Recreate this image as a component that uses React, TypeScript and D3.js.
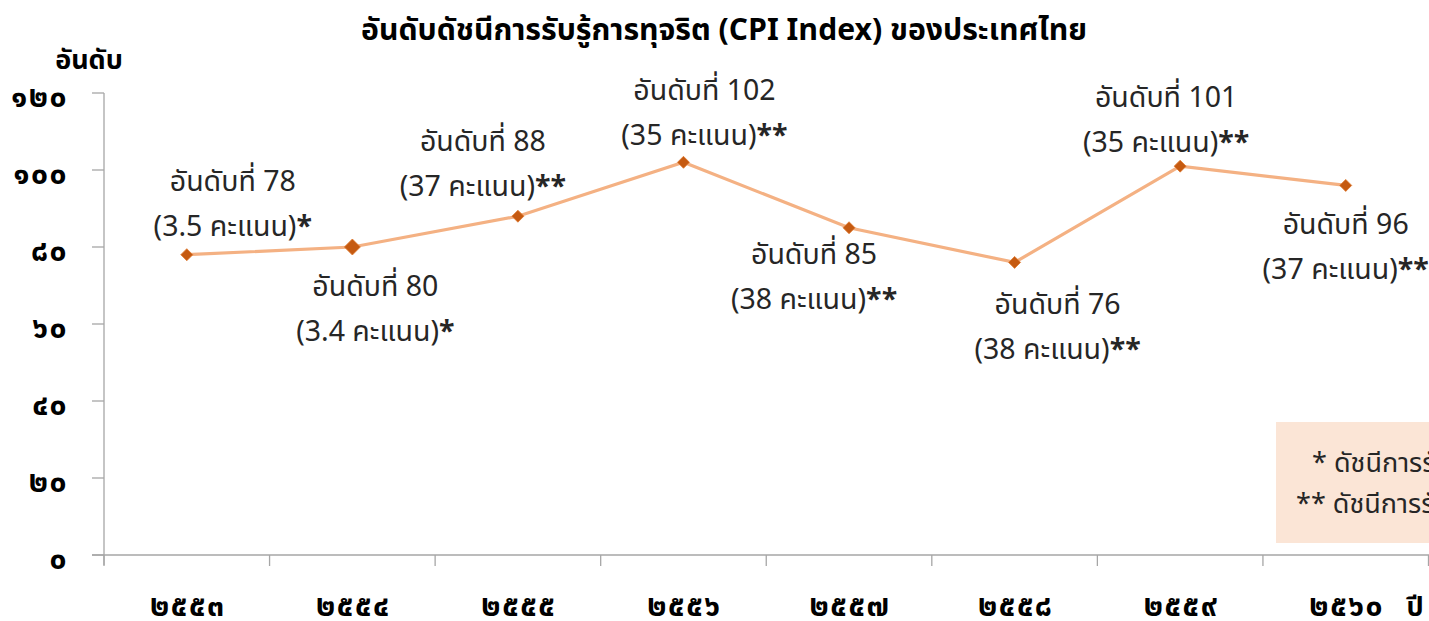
import React from "react";
import * as d3 from "d3";

const years = ["๒๕๕๓", "๒๕๕๔", "๒๕๕๕", "๒๕๕๖", "๒๕๕๗", "๒๕๕๘", "๒๕๕๙", "๒๕๖๐"];
const ranks = [78, 80, 88, 102, 85, 76, 101, 96];
const scores = ["3.5", "3.4", "37", "35", "38", "38", "35", "37"];
const marks = ["*", "*", "**", "**", "**", "**", "**", "**"];
const yTicks = [0, 20, 40, 60, 80, 100, 120];
const thaiDigits = ["๐", "๑", "๒", "๓", "๔", "๕", "๖", "๗", "๘", "๙"];
const title = "อันดับดัชนีการรับรู้การทุจริต (CPI Index) ของประเทศไทย";
const noteLines = ["* ดัชนีการรับรู้การทุจริต คะแนนเต็ม 10", "** ดัชนีการรับรู้การทุจริต คะแนนเต็ม 100"];

// label placement relative to points (layout only)
const labelDx = [46, 23, -35, 21, -35, 43, -14, 0];
const labelDy = [-74, 39, -75, -72, 26, 42, -69, 39];

const toThai = (n: number) => String(n).split("").map((c) => thaiDigits[+c]).join("");

const W = 1429, H = 621;
const FONT = "'Noto Sans Thai', 'Noto Sans', 'DejaVu Sans', sans-serif";

export default function App() {
  const x = d3.scaleBand<string>().domain(years).range([104, 1428.5]).padding(0);
  const y = d3.scaleLinear().domain([0, 120]).range([555, 93]);
  const cx = (i: number) => (x(years[i]) as number) + x.bandwidth() / 2;
  const line = d3.line<number>().x((_, i) => cx(i)).y((d) => y(d));
  const axisColor = "#A6A6A6";
  const txt = "#262626";

  return (
    <svg width={W} height={H} style={{ position: "absolute", left: 0, top: 0, background: "#fff" }} fontFamily={FONT}>
      <text x={724} y={40} textAnchor="middle" fontSize={30.2} fontWeight="bold" fill="#000">{title}</text>
      <text x={89} y={69} textAnchor="middle" fontSize={27} fontWeight="bold" fill="#000">อันดับ</text>

      {/* y axis */}
      <line x1={104} x2={104} y1={y(120)} y2={565} stroke={axisColor} strokeWidth={1.3} />
      {yTicks.map((t) => (
        <g key={t}>
          <line x1={92} x2={104} y1={y(t)} y2={y(t)} stroke={axisColor} strokeWidth={1.3} />
          <text x={68} y={y(t) + 14} textAnchor="end" fontSize={30} letterSpacing={1.5} fontWeight="bold" fill="#000">{toThai(t)}</text>
        </g>
      ))}

      {/* x axis */}
      <line x1={92} x2={1429} y1={y(0)} y2={y(0)} stroke={axisColor} strokeWidth={1.3} />
      {years.map((yr, i) => (
        <g key={yr}>
          <line x1={x(yr) as number} x2={x(yr) as number} y1={y(0)} y2={566} stroke={axisColor} strokeWidth={1.3} />
          <text x={cx(i) + 1} y={616} textAnchor="middle" fontSize={30} letterSpacing={1.5} fontWeight="bold" fill="#000">{yr}</text>
        </g>
      ))}
      <line x1={1428.5} x2={1428.5} y1={y(0)} y2={566} stroke={axisColor} strokeWidth={1.3} />
      <text x={1415} y={616} textAnchor="middle" fontSize={27} fontWeight="bold" fill="#000">ปี</text>

      {/* note box */}
      <rect x={1276} y={422} width={300} height={121} fill="#FBE5D6" />
      <text x={1312} y={472} fontSize={27} fill={txt}>{noteLines[0]}</text>
      <text x={1296} y={513} fontSize={27} fill={txt}>{noteLines[1]}</text>

      {/* line */}
      <path d={line(ranks) as string} fill="none" stroke="#F4B183" strokeWidth={3.2} />
      {ranks.map((r, i) => {
        const s = i === 1 ? 8 : 6;
        const px = cx(i), py = y(r);
        return (
          <path key={i} d={`M${px},${py - s}L${px + s},${py}L${px},${py + s}L${px - s},${py}Z`} fill="#C55A11" stroke="#E07A30" strokeWidth={0.8} />
        );
      })}

      {/* labels */}
      {ranks.map((r, i) => {
        const lx = cx(i) + labelDx[i];
        const ly = y(r) + labelDy[i];
        return (
          <g key={"l" + i} fontSize={28.5} fill={txt} textAnchor="middle">
            <text x={lx} y={ly + 10}>{`อันดับที่ ${r}`}</text>
            <text x={lx} y={ly + 55}>
              {`(${scores[i]} คะแนน)`}
              <tspan fontWeight="bold">{marks[i]}</tspan>
            </text>
          </g>
        );
      })}
    </svg>
  );
}
